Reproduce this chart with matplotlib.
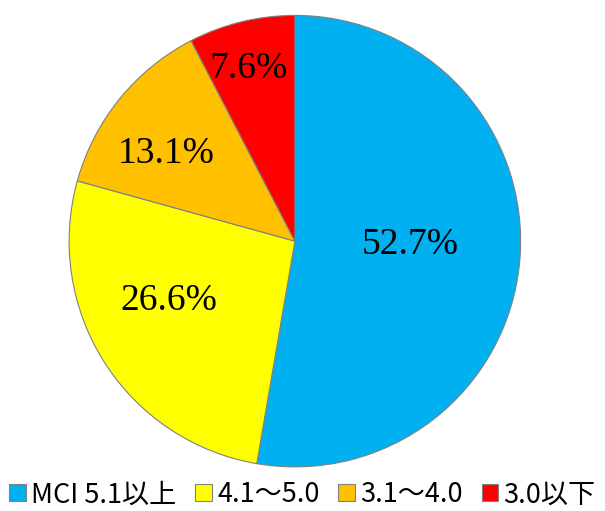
import matplotlib
matplotlib.use('Agg')
import numpy as np
from matplotlib import pyplot as plt

labels = ['MCI 5.1以上', '4.1～5.0', '3.1～4.0', '3.0以下']
values = [52.7, 26.6, 13.1, 7.6]
colors = ['#00B0F0', '#FFFF00', '#FFC000', '#FF0000']
label_dist = [0.51, 0.62, 0.69, 0.79]
label_turn = [3, -7, 5, 1.5]

plt.rcParams['font.family'] = ['Noto Sans CJK JP', 'DejaVu Sans']

fig = plt.figure(figsize=(6.05, 5.11), dpi=100)
ax = fig.add_axes([0.1124, 0.0841, 0.750, 0.888])

wedges, texts, autotexts = ax.pie(values, colors=colors, startangle=90, counterclock=False,
                                  autopct='%.1f%%', pctdistance=0.6,
                                  wedgeprops=dict(edgecolor='#808080', linewidth=0.8))
ax.set_aspect('equal')
ax.set_xlim(-1.005, 1.005)
ax.set_ylim(-1.005, 1.005)

# move the percent labels to where they sit in the original
for w, t, d, turn in zip(wedges, autotexts, label_dist, label_turn):
    ang = np.deg2rad((w.theta1 + w.theta2) / 2 + turn)
    t.set_position((d * np.cos(ang), d * np.sin(ang)))
    t.set_fontfamily('Liberation Serif')
    t.set_fontsize(27)

fig.legend(wedges, labels, loc='lower center', bbox_to_anchor=(0.5, 0.0), ncol=4,
           frameon=False, fontsize=19.5, handlelength=0.6, handleheight=0.6,
           handletextpad=0.2, columnspacing=0.7, borderaxespad=0.0, borderpad=0.1)

fig.savefig('out.png', dpi=100)
